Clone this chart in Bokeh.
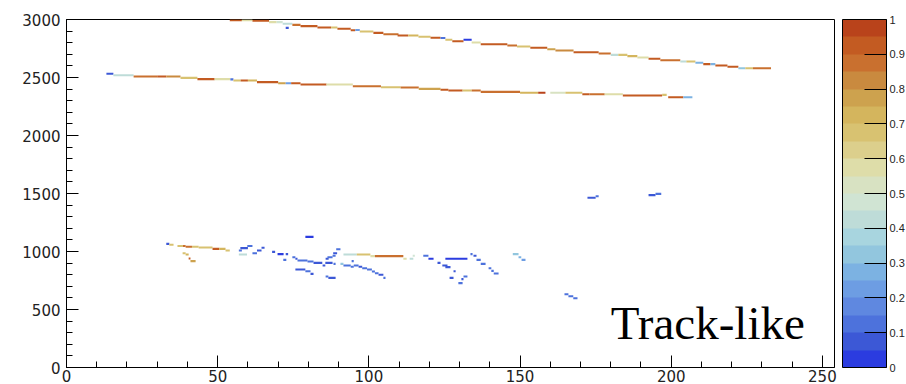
from bokeh.plotting import figure
from bokeh.models import ColorBar, LinearColorMapper, FixedTicker, Label, ColumnDataSource
from bokeh.embed import file_html
from bokeh.resources import INLINE

# ---- palette (bottom -> top, value 0 -> 1) ----
palette = ["#2b3ce0", "#3c58d6", "#4d72dc", "#5f88e0", "#6d9de3",
           "#7cb2e2", "#92c6de", "#a8d5df", "#bedcd8", "#d0e4d3",
           "#d8e2c2", "#dedda9", "#dccf8c", "#d8c271", "#d4b55d",
           "#cda24e", "#c98a3f", "#c9702f", "#c35b22", "#b9431b"]

x_ticks = [0, 50, 100, 150, 200, 250]
x_minor = list(range(0, 255, 10))
y_ticks = [0, 500, 1000, 1500, 2000, 2500, 3000]
y_minor = list(range(0, 3001, 100))
cb_ticks = [0, 0.1, 0.2, 0.3, 0.4, 0.5, 0.6, 0.7, 0.8, 0.9, 1]
cb_labels = ["0", "0.1", "0.2", "0.3", "0.4", "0.5", "0.6", "0.7", "0.8", "0.9", "1"]

# ---- hit runs: start x, end x, y, charge value ----
# upper track
t1_x0 = [54, 58, 61.5, 67, 69.5, 71.5, 72.5, 74.7, 77.4, 83, 87.5, 89.6, 94, 95.5, 97, 101.5, 104.8,
         109.5, 113, 116.4, 120.4, 123.7, 125.3, 127.6, 131.3, 134, 137, 145.8, 149, 153.4, 159, 161.7,
         167.7, 176, 180, 182.5, 185.5, 188.8, 192.5, 196.4, 203, 205, 208, 210.6, 213, 214.6, 218.6,
         222.2, 224.5, 227]
t1_x1 = [58, 61.5, 67, 69.5, 71.5, 74.7, 73.5, 77.4, 83, 87.5, 89.6, 94, 95.5, 97, 101.5, 104.8, 109.8,
         113, 116.4, 120.4, 123.7, 125.3, 127.6, 131.3, 134, 137, 145.8, 149, 153.4, 159, 161.7, 167.7,
         176, 180, 182.5, 185.5, 188.8, 192.5, 196.4, 203, 205, 208, 210.6, 213, 214.6, 218.6, 222.2,
         224.5, 227, 233]
t1_y = [2993, 2993, 2989, 2977, 2977, 2963, 2928, 2954, 2943, 2931, 2931, 2920, 2908, 2910, 2897, 2885, 2873,
        2862, 2862, 2851, 2842, 2840, 2825, 2813, 2825, 2802, 2787, 2776, 2767, 2756, 2744, 2733,
        2718, 2707, 2695, 2695, 2684, 2672, 2661, 2649, 2638, 2638, 2627, 2615, 2615, 2603, 2592,
        2580, 2580, 2580]
t1_v = [0.9, 0.6, 0.92, 0.6, 0.45, 0.4, 0.05, 0.85, 0.9, 0.95, 0.7, 0.9, 0.95, 0.2, 0.7, 0.9, 0.85,
        0.95, 0.72, 0.7, 0.9, 0.12, 0.7, 0.9, 0.03, 0.55, 0.93, 0.88, 0.68, 0.9, 0.75, 0.8,
        0.93, 0.88, 0.4, 0.7, 0.72, 0.55, 0.9, 0.85, 0.4, 0.65, 0.3, 0.9, 0.25, 0.92, 0.95,
        0.35, 0.65, 0.85]

# lower long track
t2_x0 = [13.2, 15.5, 22.2, 30, 33, 37.7, 43.3, 49, 54.2, 55.2, 57.6, 60, 63, 70, 72.5, 74.3, 77.4, 86,
         94.7, 104, 110.5, 116.5, 123.7, 126.3, 131, 134, 137, 150, 156, 160, 165, 170.6, 173, 178,
         184, 197, 199, 204]
t2_x1 = [15.5, 22.2, 30, 33, 37.7, 43.3, 49, 54.2, 55.2, 57.6, 60, 63, 70, 72.5, 74.3, 77.4, 86, 94.7,
         104, 110.5, 116.5, 123.7, 126.3, 131, 134, 137, 150, 156, 158.4, 165, 170.6, 173, 178, 184,
         197, 198.5, 204, 207]
t2_y = [2532, 2520, 2509, 2509, 2509, 2497, 2486, 2486, 2484, 2474, 2474, 2474, 2460, 2451, 2451, 2451, 2440, 2440,
        2425, 2416, 2414, 2402, 2394, 2388, 2388, 2388, 2376, 2368, 2368, 2368, 2368, 2356, 2356, 2356,
        2345, 2350, 2330, 2330]
t2_v = [0.05, 0.42, 0.88, 0.92, 0.8, 0.68, 0.9, 0.55, 0.15, 0.7, 0.92, 0.72, 0.9, 0.75, 0.2, 0.9, 0.95, 0.55,
        0.88, 0.68, 0.88, 0.75, 0.9, 0.9, 0.65, 0.88, 0.85, 0.72, 0.97, 0.5, 0.7, 0.95, 0.85, 0.6,
        0.92, 0.7, 0.95, 0.3]

# low cluster and isolated hits
t3_x0 = [33, 34, 36.7, 38.5, 39.4, 41.5, 43.7, 48.3, 50.5, 52.6, 38.4, 39.4, 40.4, 41,
         57, 57, 57.5, 59.8, 61.5, 63, 64.5, 79, 68, 69.8, 71.7, 72.5, 74.7, 75.7, 76.4, 79.7, 81.7,
         84.7, 85.6, 85.7, 86.3, 88, 88.2, 89.2, 88.3, 75.7, 79, 80.7, 85.7, 86.6,
         91.6, 96, 100.5, 102, 111.4, 113.5, 114.5, 90.6, 91.6, 94, 95, 96.6, 97.8, 99.4, 101, 102,
         103.2, 104.8, 94.3, 118, 119.7, 122.7, 124.3, 125.3, 125.3, 128, 126.7, 131.3, 130.6, 129.6,
         133.6, 134.6, 135.6, 137, 139.6, 140.5, 141.3, 147.6, 149.5, 150.5,
         172.3, 175, 192.5, 194.8, 164.7, 166, 167.6]
t3_x1 = [34, 35.4, 38.5, 39.4, 41.5, 43.7, 48.3, 50.5, 52.6, 54, 39.4, 40.4, 41, 42.7,
         58, 59.7, 60, 61.5, 63, 64.5, 65.5, 81.7, 69, 71.8, 72.7, 73.3, 75.7, 76.4, 79.7, 81.7, 84.6,
         85.6, 88, 86.7, 88, 89, 89.5, 90.6, 89, 79, 80.7, 81.7, 86.6, 89,
         96, 100.5, 102, 111.4, 112.5, 114.7, 115.2, 91.6, 94, 95, 96.6, 97.8, 99.4, 101, 102, 103.2,
         104.8, 105.5, 95, 119.7, 121.4, 123.7, 126, 127, 132.6, 128.7, 128, 132.6, 131.3, 131,
         134.3, 135.6, 137, 138.6, 140.5, 141.3, 142.9, 149.5, 150.4, 151.8,
         175, 176, 194.8, 196.7, 166, 167.6, 169]
t3_y = [1066, 1058, 1047, 1047, 1041, 1041, 1035, 1023, 1023, 1009, 985, 974, 940, 917,
        1009, 974, 1029, 1047, 985, 1009, 1032, 1126, 997, 977, 928, 977, 951, 937, 922, 914, 902,
        879, 902, 937, 951, 963, 985, 1020, 893, 845, 830, 807, 785, 773,
        974, 974, 960, 960, 937, 937, 963, 893, 879, 868, 879, 868, 856, 845, 827, 813,
        799, 773, 917, 963, 937, 902, 879, 865, 937, 830, 773, 785, 762, 727,
        977, 963, 928, 893, 856, 833, 810, 977, 951, 928,
        1463, 1476, 1486, 1497, 632, 614, 597]
t3_v = [0.05, 0.68, 0.7, 0.88, 0.88, 0.7, 0.7, 0.9, 0.72, 0.68, 0.7, 0.72, 0.92, 0.75,
        0.1, 0.4, 0.05, 0.1, 0.1, 0.05, 0.05, 0.03, 0.05, 0.03, 0.1, 0.05, 0.1, 0.05, 0.1, 0.1, 0.08,
        0.05, 0.05, 0.05, 0.1, 0.1, 0.05, 0.12, 0.1, 0.05, 0.1, 0.05, 0.1, 0.05,
        0.4, 0.68, 0.6, 0.88, 0.55, 0.4, 0.45, 0.35, 0.15, 0.1, 0.1, 0.05, 0.1, 0.1, 0.1, 0.15,
        0.05, 0.1, 0.1, 0.1, 0.03, 0.05, 0.05, 0.05, 0.02, 0.05, 0.05, 0.1, 0.05, 0.1,
        0.1, 0.05, 0.1, 0.1, 0.15, 0.15, 0.15, 0.35, 0.25, 0.2,
        0.05, 0.1, 0.05, 0.1, 0.1, 0.15, 0.15]

cell_half = 9  # half height of a y bin

x0 = t1_x0 + t2_x0 + t3_x0
x1 = t1_x1 + t2_x1 + t3_x1
yc = t1_y + t2_y + t3_y
vv = t1_v + t2_v + t3_v
src = ColumnDataSource(dict(x0=x0, x1=x1,
                            yb=[y - cell_half for y in yc],
                            yt=[y + cell_half for y in yc],
                            v=vv))

mapper = LinearColorMapper(palette=palette, low=0, high=1)

p = figure(width=906, height=384, x_range=(0, 254), y_range=(0, 3000),
           output_backend="svg", toolbar_location=None,
           min_border_left=66, min_border_right=72, min_border_top=19, min_border_bottom=17)
p.background_fill_color = "white"
p.border_fill_color = "white"
p.outline_line_color = "black"
p.outline_line_width = 1
p.grid.visible = False

p.quad(left="x0", right="x1", bottom="yb", top="yt", source=src,
       fill_color={"field": "v", "transform": mapper}, line_color=None)

for ax, tk, mn in ((p.xaxis[0], x_ticks, x_minor), (p.yaxis[0], y_ticks, y_minor)):
    ax.ticker = FixedTicker(ticks=tk, minor_ticks=mn)
    ax.axis_line_color = "black"
    ax.major_tick_line_color = "black"
    ax.minor_tick_line_color = "black"
    ax.major_tick_in = 12
    ax.major_tick_out = 0
    ax.minor_tick_in = 6
    ax.minor_tick_out = 0
    ax.major_label_text_font = "DejaVu Sans"
    ax.major_label_text_font_size = "15px"
    ax.major_label_text_color = "#222222"
p.xaxis.major_label_standoff = 2
p.yaxis.major_label_standoff = 6

cb = ColorBar(color_mapper=mapper, ticker=FixedTicker(ticks=cb_ticks),
              width=44, height=348, location=(776, 0), padding=0, margin=0,
              bar_line_color="black", major_tick_line_color="black",
              major_tick_in=22, major_tick_out=0, minor_tick_line_color=None,
              label_standoff=3, major_label_text_font="Liberation Sans",
              major_label_text_font_size="11px", major_label_text_color="#222222",
              major_label_overrides={t: s for t, s in zip(cb_ticks, cb_labels)},
              border_line_color=None, background_fill_color=None)
p.add_layout(cb, "center")

p.add_layout(Label(x=180, y=159, text="Track-like", text_font="Liberation Serif",
                   text_font_size="47px", text_color="black", text_baseline="bottom"))

open("out.html", "w").write(file_html(p, INLINE))
